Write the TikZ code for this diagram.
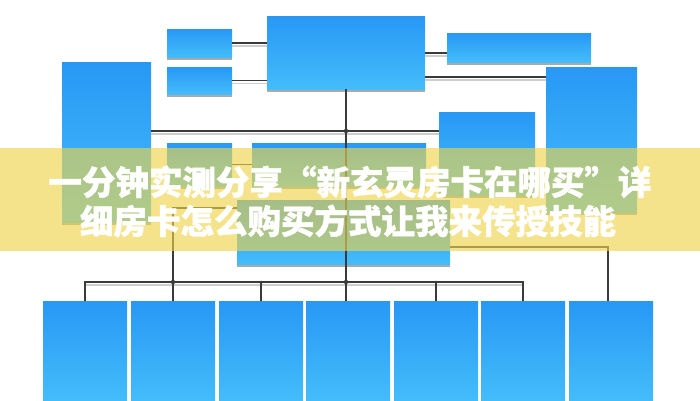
\documentclass[tikz,border=0pt]{standalone}
\usepackage{fontspec}
\newfontfamily\cjk[BoldFeatures={FakeBold=1.2}]{Noto Sans CJK SC}
\usetikzlibrary{shadows,calc}
\definecolor{btop}{RGB}{40,152,245}
\definecolor{bbot}{RGB}{68,188,250}
\definecolor{conn}{RGB}{58,58,58}
\definecolor{connsh}{RGB}{205,205,205}
\definecolor{shad}{RGB}{170,170,170}
\definecolor{banner}{RGB}{240,212,72}
\begin{document}
\begin{tikzpicture}[x=1pt,y=-1pt,
  box/.style={anchor=north west, inner sep=0pt, outer sep=0pt, top color=btop, bottom color=bbot, draw=none},
  sbox/.style={box, general shadow={fill=shad, shadow yshift=-3pt}},
  wire/.style={draw=conn, line width=1.1pt},
  wiresh/.style={draw=connsh, line width=1.1pt},
  bigdot/.style={fill=conn, circle, inner sep=0pt, minimum size=4.5pt},
  smalldot/.style={fill=conn, circle, inner sep=0pt, minimum size=3pt},
  title/.style={text=white, font=\cjk\bfseries\fontsize{33.5}{39}\selectfont, inner sep=0pt}]
\useasboundingbox (0,0) rectangle (700,400);
\fill[white] (0,0) rectangle (700,400);

% upper boxes
\node[sbox, minimum width=158pt, minimum height=73pt] (top) at (267,16) {};
\node[sbox, minimum width=65pt, minimum height=28pt] (s1) at (167,29) {};
\node[sbox, minimum width=65pt, minimum height=27pt] (s2) at (167,67) {};
\node[sbox, minimum width=144pt, minimum height=29pt] (tr) at (447,33) {};
\node[sbox, minimum width=89pt, minimum height=160pt] (lb) at (62,62) {};
\node[sbox, minimum width=91pt, minimum height=145pt] (rb) at (546,67) {};
\node[sbox, minimum width=96pt, minimum height=83pt] (C) at (439,112) {};
\node[sbox, minimum width=65pt, minimum height=43pt] (A) at (167,143) {};
\node[sbox, minimum width=174pt, minimum height=43pt] (B) at (252,143) {};
\node[sbox, minimum width=213pt, minimum height=64pt] (bc) at (237,200) {};

% bottom row
\foreach \i/\x in {1/43,2/131,3/219,4/306,5/394,6/481,7/569}{
  \node[box, minimum width=84pt, minimum height=99pt] (b\i) at (\x,301) {};
}

% connector shadows
\draw[wiresh] ($(s1.east)+(0,3)$) -- ($(s1.east -| top.west)+(0,3)$);
\draw[wiresh] ($(s2.east)+(0,3)$) -- ($(s2.east -| top.west)+(0,3)$);
\draw[wiresh] ($(top.east |- 0,53)+(0,3)$) -- ($(tr.west |- 0,53)+(0,3)$);
\draw[wiresh] ($(top.east |- 0,77)+(0,3)$) -- ($(rb.west |- 0,77)+(0,3)$);
\draw[wiresh] ($(lb.east |- 0,131)+(0,3)$) -- ($(C.west |- 0,131)+(0,3)$);
\draw[wiresh] ($(b1.north |- 0,282)+(0,3)$) -- ($(b6.north |- 0,282)+(0,3)$);

% connectors
\draw[wire] (s1.east) -- (s1.east -| top.west);
\draw[wire] (s2.east) -- (s2.east -| top.west);
\draw[wire] (top.east |- 0,53) -- (tr.west |- 0,53);
\draw[wire] (top.east |- 0,77) -- (rb.west |- 0,77);
\draw[wire] (lb.east |- 0,131) -- (C.west |- 0,131);
\draw[wire] (A.east) -- (B.west);
\draw[wire] (top.south) -- (top.south |- b4.north);
\draw[wire] (b1.north) -- (b1.north |- 0,282) -- (b6.north |- 0,282) -- (b6.north);
\draw[wire] (b3.north) -- (b3.north |- 0,282);
\draw[wire] (b5.north) -- (b5.north |- 0,282);
\draw[wire] (bc.west |- 0,208) -- (b2.north |- 0,208) -- (b2.north);
\draw[wire] (bc.east |- 0,247) -- ([xshift=-3pt]b7.north |- 0,247) -- ([xshift=-3pt]b7.north);

\node[bigdot] (d1) at (top.south |- 0,131) {};
\node[bigdot] (d2) at (top.south |- 0,282) {};
\node[bigdot] (d3) at (b2.north |- 0,282) {};
\node[smalldot] (d4) at (b3.north |- 0,282) {};
\node[smalldot] (d5) at (b5.north |- 0,282) {};

% banner
\fill[banner, fill opacity=0.63] (0,148) rectangle (700,251);
\node[title] (t1) at (350,182) {一分钟实测分享“新玄灵房卡在哪买”详};
\node[title] (t2) at (348,221) {细房卡怎么购买方式让我来传授技能};
\end{tikzpicture}
\end{document}
